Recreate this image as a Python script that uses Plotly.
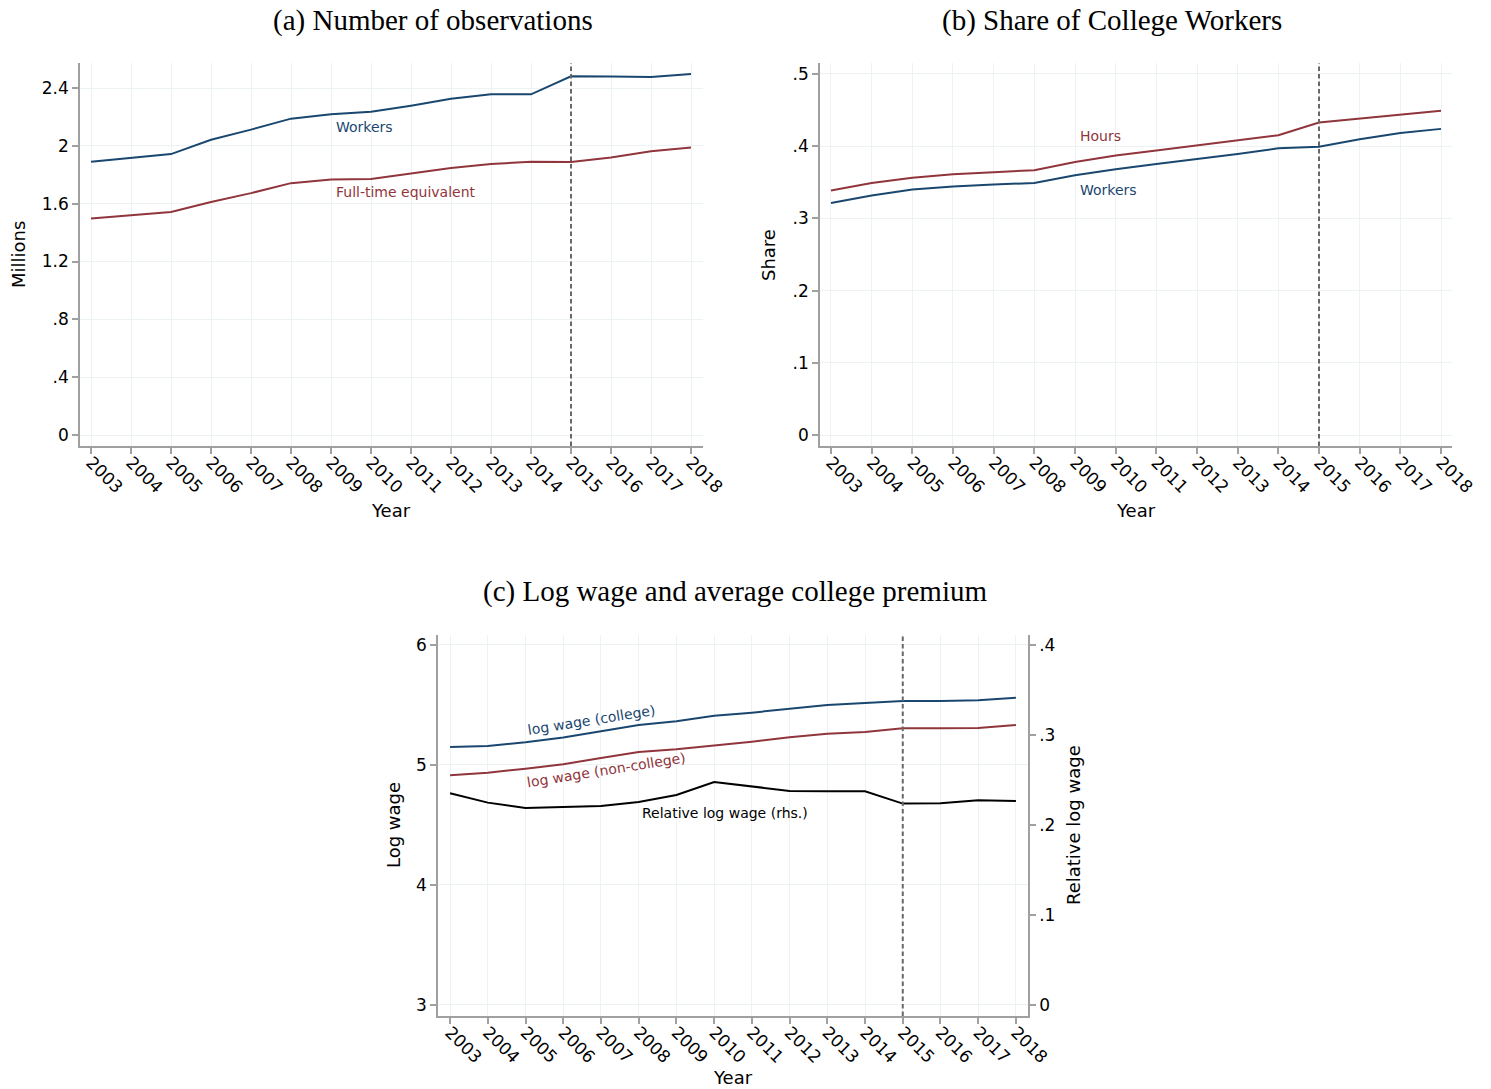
import plotly.graph_objects as go

years = list(range(2003, 2019))

# Panel (a): number of observations (millions)
obs_workers = [1.890, 1.915, 1.943, 2.042, 2.112, 2.188, 2.218, 2.236, 2.278, 2.326, 2.356, 2.356, 2.481, 2.479, 2.476, 2.497]
obs_fte = [1.498, 1.521, 1.542, 1.611, 1.673, 1.742, 1.768, 1.770, 1.807, 1.846, 1.874, 1.890, 1.888, 1.920, 1.962, 1.989]

# Panel (b): share of college workers
share_hours = [0.3384, 0.3490, 0.3560, 0.3610, 0.3638, 0.3666, 0.3780, 0.3869, 0.3938, 0.4007, 0.4077, 0.4150, 0.4326, 0.4380, 0.4430, 0.4490]
share_workers = [0.3213, 0.3315, 0.3400, 0.3440, 0.3467, 0.3490, 0.3596, 0.3680, 0.3753, 0.3818, 0.3890, 0.3970, 0.3990, 0.4095, 0.4180, 0.4238]

# Panel (c): log wages and relative log wage
lw_college = [5.150, 5.158, 5.189, 5.228, 5.281, 5.333, 5.364, 5.411, 5.436, 5.469, 5.500, 5.517, 5.533, 5.533, 5.539, 5.561]
lw_noncollege = [4.914, 4.936, 4.969, 5.006, 5.058, 5.108, 5.131, 5.161, 5.194, 5.231, 5.261, 5.275, 5.306, 5.306, 5.308, 5.333]
rel_lw = [0.2352, 0.2248, 0.2189, 0.2204, 0.2211, 0.2256, 0.2333, 0.2478, 0.2426, 0.2378, 0.2374, 0.2374, 0.2237, 0.2241, 0.2274, 0.2267]

ticks_a = [0, 0.4, 0.8, 1.2, 1.6, 2.0, 2.4]
ticktext_a = ["0", ".4", ".8", "1.2", "1.6", "2", "2.4"]
ticks_b = [0, 0.1, 0.2, 0.3, 0.4, 0.5]
ticktext_b = ["0", ".1", ".2", ".3", ".4", ".5"]
ticks_c = [3, 4, 5, 6]
ticktext_c = ["3", "4", "5", "6"]
ticks_c2 = [0, 0.1, 0.2, 0.3, 0.4]
ticktext_c2 = ["0", ".1", ".2", ".3", ".4"]
break_year = 2015

NAVY = "#1a476f"
MAROON = "#90353b"
AXIS = "#a0a0a0"
GRID = "#edf2f2"
W, H = 1491, 1089


def px_x(p):
    return p / W


def px_y(p):
    return 1 - p / H


fig = go.Figure()
fig.add_trace(go.Scatter(x=years, y=obs_workers, mode="lines", line=dict(color=NAVY, width=2), xaxis="x", yaxis="y", showlegend=False))
fig.add_trace(go.Scatter(x=years, y=obs_fte, mode="lines", line=dict(color=MAROON, width=2), xaxis="x", yaxis="y", showlegend=False))
fig.add_trace(go.Scatter(x=years, y=share_hours, mode="lines", line=dict(color=MAROON, width=2), xaxis="x2", yaxis="y2", showlegend=False))
fig.add_trace(go.Scatter(x=years, y=share_workers, mode="lines", line=dict(color=NAVY, width=2), xaxis="x2", yaxis="y2", showlegend=False))
fig.add_trace(go.Scatter(x=years, y=lw_college, mode="lines", line=dict(color=NAVY, width=2), xaxis="x3", yaxis="y3", showlegend=False))
fig.add_trace(go.Scatter(x=years, y=lw_noncollege, mode="lines", line=dict(color=MAROON, width=2), xaxis="x3", yaxis="y3", showlegend=False))
fig.add_trace(go.Scatter(x=years, y=rel_lw, mode="lines", line=dict(color="black", width=2), xaxis="x3", yaxis="y4", showlegend=False))

tickfont = dict(family="DejaVu Sans", size=17, color="black")


def xax(domain, anchor, rng):
    return dict(domain=domain, anchor=anchor, range=rng, tickvals=years, ticktext=[str(y) for y in years],
                tickangle=45, ticks="outside", ticklen=6, tickwidth=1.5, tickcolor=AXIS,
                showline=True, linecolor=AXIS, linewidth=1.5, showgrid=True, gridcolor=GRID, gridwidth=1,
                zeroline=False, tickfont=tickfont, fixedrange=True, ticklabelstandoff=-8, automargin=False)


def yax(domain, anchor, rng, tv, tt, side="left", overlaying=None, grid=True):
    d = dict(domain=domain, anchor=anchor, range=rng, tickvals=tv, ticktext=tt, side=side,
             ticks="outside", ticklen=6, tickwidth=1.5, tickcolor=AXIS,
             showline=True, linecolor=AXIS, linewidth=1.5, showgrid=grid, gridcolor=GRID, gridwidth=1,
             zeroline=False, tickfont=tickfont, fixedrange=True, automargin=False)
    if overlaying:
        d["overlaying"] = overlaying
    return d


ya_dom = [px_y(446), px_y(63)]
yc_dom = [px_y(1016), px_y(635)]

fig.update_layout(
    width=W, height=H, autosize=False,
    margin=dict(l=0, r=0, t=0, b=0, pad=0, autoexpand=False),
    paper_bgcolor="white", plot_bgcolor="white",
    xaxis=xax([px_x(80), px_x(703)], "y", [2002.725, 2018.3]),
    yaxis=yax(ya_dom, "x", [-0.076, 2.573], ticks_a, ticktext_a),
    xaxis2=xax([px_x(820), px_x(1452)], "y2", [2002.73, 2018.27]),
    yaxis2=yax(ya_dom, "x2", [-0.0152, 0.515], ticks_b, ticktext_b),
    xaxis3=xax([px_x(438), px_x(1028)], "y3", [2002.68, 2018.32]),
    yaxis3=yax(yc_dom, "x3", [2.908, 6.083], ticks_c, ticktext_c),
    yaxis4=yax(yc_dom, "x3", [-0.0122, 0.411], ticks_c2, ticktext_c2, side="right", overlaying="y3", grid=False),
)

for xr in ["x", "x2", "x3"]:
    yr = {"x": "y", "x2": "y2", "x3": "y3"}[xr]
    fig.add_shape(type="line", xref=xr, yref=f"{yr} domain", x0=break_year, x1=break_year, y0=0, y1=1,
                  line=dict(color="#686868", width=2, dash="4.5px,3px"))

lab = dict(family="DejaVu Sans", size=14)
fig.add_annotation(x=2009.08, y=2.128, xref="x", yref="y", text="Workers", showarrow=False, xanchor="left",
                   font=dict(color=NAVY, **lab))
fig.add_annotation(x=2009.08, y=1.678, xref="x", yref="y", text="Full-time equivalent", showarrow=False, xanchor="left",
                   font=dict(color=MAROON, **lab))
fig.add_annotation(x=2009.07, y=0.414, xref="x2", yref="y2", text="Hours", showarrow=False, xanchor="left",
                   font=dict(color=MAROON, **lab))
fig.add_annotation(x=2009.07, y=0.339, xref="x2", yref="y2", text="Workers", showarrow=False, xanchor="left",
                   font=dict(color=NAVY, **lab))
fig.add_annotation(x=2006.74, y=5.375, xref="x3", yref="y3", text="log wage (college)", showarrow=False,
                   textangle=-9, font=dict(color=NAVY, **lab))
fig.add_annotation(x=2007.13, y=4.962, xref="x3", yref="y3", text="log wage (non-college)", showarrow=False,
                   textangle=-9, font=dict(color=MAROON, **lab))
fig.add_annotation(x=2010.28, y=0.2133, xref="x3", yref="y4", text="Relative log wage (rhs.)", showarrow=False,
                   font=dict(color="black", **lab))

title_font = dict(family="Liberation Serif", size=29, color="black")
for txt, px, py in [("(a) Number of observations", 433, 21),
                    ("(b) Share of College Workers", 1112, 21),
                    ("(c) Log wage and average college premium", 735, 591)]:
    fig.add_annotation(x=px_x(px), y=px_y(py), xref="paper", yref="paper", text=txt, showarrow=False,
                       xanchor="center", yanchor="middle", font=title_font)

axt = dict(family="DejaVu Sans", size=18, color="black")
for txt, px, py, ang in [("Millions", 18, 255, -90), ("Year", 391, 510, 0),
                         ("Share", 768, 255, -90), ("Year", 1136, 510, 0),
                         ("Log wage", 393, 825, -90), ("Relative log wage", 1073, 825, -90),
                         ("Year", 733, 1077, 0)]:
    fig.add_annotation(x=px_x(px), y=px_y(py), xref="paper", yref="paper", text=txt, showarrow=False,
                       xanchor="center", yanchor="middle", textangle=ang, font=axt)

fig.write_html("out.html", config={"displayModeBar": False, "responsive": False},
               post_script="document.body.style.margin='0';document.body.style.overflow='hidden';")
